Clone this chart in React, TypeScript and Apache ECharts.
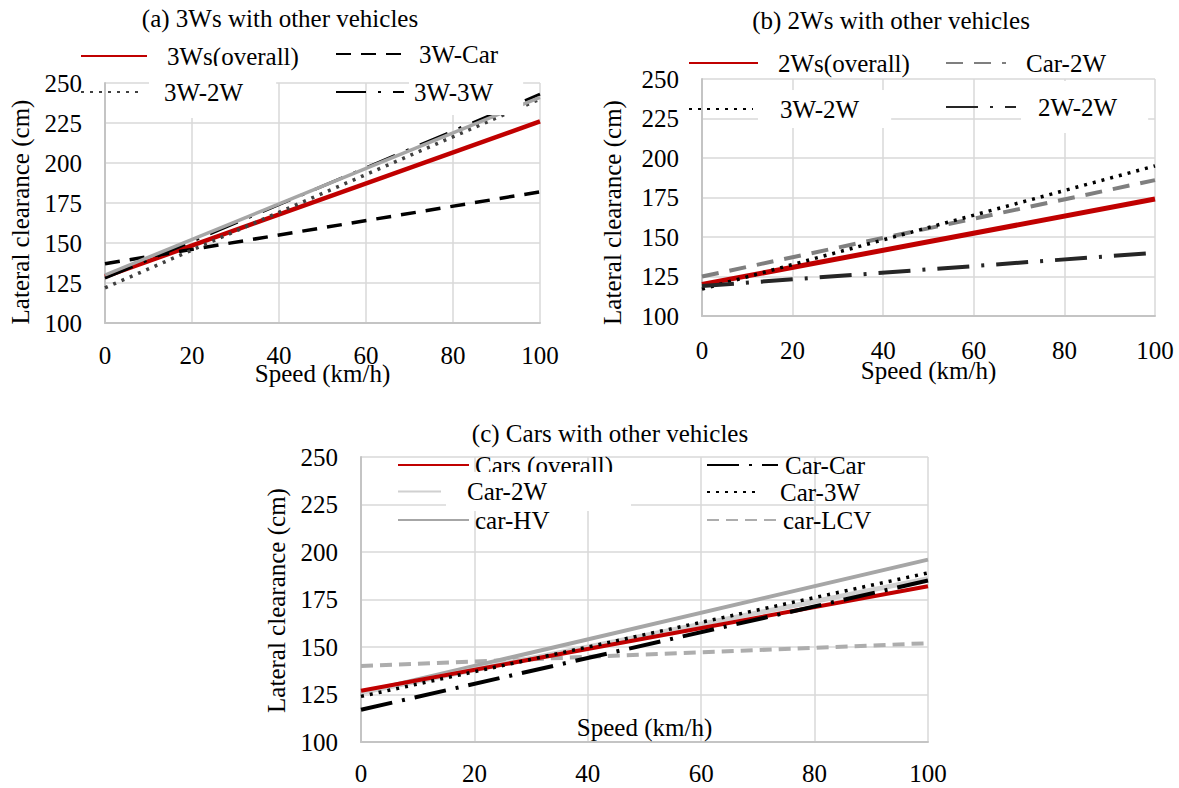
import React, { useEffect, useRef } from "react";
import * as echarts from "echarts";

// Speeds (km/h) at which each fitted line was read
const SPEED = [0, 100];

// (a) 3Ws with other vehicles — lateral clearance (cm)
const A_OVERALL = [129, 226];
const A_CAR = [137, 182];
const A_2W = [122, 240];
const A_3W = [128, 243];
const A_3W_TREND = [130, 241];

// (b) 2Ws with other vehicles
const B_OVERALL = [120, 174];
const B_CAR = [125, 186];
const B_3W = [117, 195];
const B_2W = [119, 140];

// (c) Cars with other vehicles
const C_OVERALL = [127, 182];
const C_CAR = [117, 185];
const C_2W = [126, 186];
const C_3W = [124, 189];
const C_HV = [126, 196];
const C_LCV = [140, 152];

// Tick labels
const X_TICKS = [0, 20, 40, 60, 80, 100];
const Y_TICKS = [100, 125, 150, 175, 200, 225, 250];

const TITLES = ["(a) 3Ws with other vehicles", "(b) 2Ws with other vehicles", "(c) Cars with other vehicles"];
const X_NAME = "Speed (km/h)";
const Y_NAME = "Lateral clearance (cm)";

const FONT = "Liberation Serif";
const FS = 25;

const pts = (v: number[]) => SPEED.map((s, i) => [s, v[i]]);

export default function App() {
  const ref = useRef<HTMLDivElement>(null);

  useEffect(() => {
    if (!ref.current) return;
    const chart = echarts.init(ref.current, undefined, { renderer: "svg" });

    const grids = [
      { left: 105, top: 83, width: 435, height: 240 },
      { left: 702, top: 79, width: 453, height: 237 },
      { left: 361, top: 457, width: 567, height: 285 },
    ];
    // label / name offsets relative to each plot
    const xLabelDy = [32, 34, 31];
    const xNameDy = [50, 54, -15];
    const yLabelGap = [23, 23, 23];
    const yNameDx = [85, 90, 85];
    const yNameDy = [9, 15, 1];

    const serif = {
      fontFamily: FONT,
      fontSize: FS,
      fontStyle: "normal",
      fontWeight: "normal",
      color: "#000",
      lineHeight: 26,
    };

    const xAxis = grids.map((_, i) => ({
      type: "value",
      gridIndex: i,
      min: 0,
      max: 100,
      interval: 20,
      axisLine: { show: true, lineStyle: { color: "#c4c4c4", width: 2 } },
      axisTick: { show: false },
      axisLabel: { show: false },
      splitLine: { show: true, lineStyle: { color: "#d9d9d9", width: 1.5 } },
    }));

    const yAxis = grids.map((_, i) => ({
      type: "value",
      gridIndex: i,
      min: 100,
      max: 250,
      interval: 25,
      axisLine: { show: true, lineStyle: { color: "#c4c4c4", width: 2 } },
      axisTick: { show: false },
      axisLabel: { show: false },
      splitLine: { show: true, lineStyle: { color: "#d9d9d9", width: 1.5 } },
    }));

    const line = (
      name: string,
      g: number,
      vals: number[],
      color: string,
      width: number,
      type: any = "solid"
    ) => ({
      type: "line",
      name,
      xAxisIndex: g,
      yAxisIndex: g,
      data: pts(vals),
      symbol: "none",
      symbolSize: 0,
      showSymbol: false,
      silent: true,
      lineStyle: { color, width, type, cap: "butt" },
      itemStyle: { color },
      z: 2,
    });

    const series = [
      // (a)
      line("3Ws(overall)", 0, A_OVERALL, "#c00000", 4.5),
      line("3W-Car", 0, A_CAR, "#000000", 3.5, [15, 10]),
      line("3W-2W", 0, A_2W, "#404040", 3.5, [3, 6]),
      line("3W-3W", 0, A_3W, "#000000", 3, [30, 12, 3, 12]),
      line("3W-3W trend", 0, A_3W_TREND, "#a6a6a6", 3.5),
      // (b)
      line("2Ws(overall)", 1, B_OVERALL, "#c00000", 5),
      line("Car-2W", 1, B_CAR, "#7f7f7f", 4, [17, 11]),
      line("3W-2W ", 1, B_3W, "#000000", 3.5, [3, 6]),
      line("2W-2W", 1, B_2W, "#262626", 4, [32, 12, 3, 12]),
      // (c)
      line("car-LCV", 2, C_LCV, "#adadad", 4, [12, 7]),
      line("car-HV", 2, C_HV, "#a6a6a6", 4),
      line("Car-2W ", 2, C_2W, "#d0d0d0", 5),
      line("Cars (overall)", 2, C_OVERALL, "#c00000", 4),
      line("Car-Car", 2, C_CAR, "#000000", 4, [32, 10, 3, 10]),
      line("Car-3W", 2, C_3W, "#000000", 3.5, [3, 6]),
    ];

    const leg = (
      name: string,
      label: string,
      left: number,
      top: number,
      itemWidth: number,
      padding: number[],
      white = false
    ) => ({
      data: [name],
      left,
      top,
      padding: 0,
      itemGap: 0,
      itemWidth,
      itemHeight: 12,
      selectedMode: false,
      formatter: () => label,
      itemStyle: { opacity: 0, borderWidth: 0 },
      textStyle: {
        ...serif,
        padding,
        backgroundColor: white ? "#ffffff" : "transparent",
      },
    });

    const legend = [
      // (a)
      leg("3Ws(overall)", "3Ws(overall)", 80, 42, 66, [2, 0, 0, 15]),
      leg("3W-Car", "3W-Car", 335, 41, 70, [0, 0, 0, 8]),
      leg("3W-2W", "3W-2W", 80, 66, 63, [22, 33, 4, 15], true),
      leg("3W-3W", "3W-3W", 335, 69, 68, [12, 30, 8, 5], true),
      // (b)
      leg("2Ws(overall)", "2Ws(overall)", 688, 46, 69, [8, 0, 0, 15]),
      leg("Car-2W", "Car-2W", 945, 49, 60, [2, 0, 0, 15]),
      leg("3W-2W ", "3W-2W", 688, 90, 64, [5, 32, 7, 22], true),
      leg("2W-2W", "2W-2W", 945, 81, 70, [19, 31, 7, 17], true),
      // (c)
      leg("Cars (overall)", "Cars (overall)", 397, 452, 71, [0, 0, 0, 1]),
      leg("Car-Car", "Car-Car", 706, 452, 71, [0, 0, 0, 2]),
      leg("Car-2W ", "Car-2W", 397, 472, 43, [13, 84, 0, 21], true),
      leg("Car-3W", "Car-3W", 706, 473, 52, [12, 0, 0, 16]),
      leg("car-HV", "car-HV", 397, 507, 71, [0, 0, 0, 1]),
      leg("car-LCV", "car-LCV", 706, 507, 71, [0, 0, 0, 0]),
    ];

    const titleX = [280, 891, 610];
    const titleY = [5, 7, 420];
    const title: any[] = TITLES.map((t, i) => ({
      text: t,
      left: titleX[i],
      top: titleY[i],
      textAlign: "center",
      padding: 0,
      textStyle: { ...serif },
    }));

    const base = {
      animation: false,
      backgroundColor: "#ffffff",
      textStyle: { fontFamily: FONT, fontSize: FS, color: "#000" },
      grid: grids.map((g) => ({ ...g, containLabel: false })),
      xAxis,
      yAxis,
      legend,
      series,
    };
    chart.setOption({ ...base, title });

    // Axis tick labels and names, placed through each grid's own scales
    const lab = (text: string, x: number, y: number, align: string) => ({
      text,
      left: x,
      top: y,
      textAlign: align,
      textVerticalAlign: "middle",
      padding: 0,
      silent: true,
      z: 10,
      textStyle: { ...serif },
    });

    const elements: any[] = [];
    grids.forEach((g, i) => {
      const finder = { gridIndex: i };
      X_TICKS.forEach((v) => {
        const p = chart.convertToPixel(finder, [v, Y_TICKS[0]]) as number[];
        title.push(lab(String(v), p[0], p[1] + xLabelDy[i], "center"));
      });
      Y_TICKS.forEach((v) => {
        const p = chart.convertToPixel(finder, [X_TICKS[0], v]) as number[];
        title.push(lab(String(v), p[0] - yLabelGap[i], p[1], "right"));
      });
      const lo = chart.convertToPixel(finder, [X_TICKS[0], Y_TICKS[0]]) as number[];
      const hi = chart.convertToPixel(finder, [X_TICKS[X_TICKS.length - 1], Y_TICKS[Y_TICKS.length - 1]]) as number[];
      const cx = (lo[0] + hi[0]) / 2;
      const cy = (lo[1] + hi[1]) / 2;
      title.push(lab(X_NAME, cx, lo[1] + xNameDy[i], "center"));
      elements.push({
        type: "text",
        x: lo[0] - yNameDx[i],
        y: cy + yNameDy[i],
        rotation: Math.PI / 2,
        silent: true,
        z: 10,
        style: {
          text: Y_NAME,
          x: 0,
          y: 0,
          font: "normal normal 25px " + FONT,
          fontFamily: FONT,
          fontSize: FS,
          fill: "#000",
          align: "center",
          verticalAlign: "middle",
          textAlign: "center",
          textVerticalAlign: "middle",
        },
      });
    });

    chart.setOption({ ...base, title, graphic: { elements } }, { notMerge: true });

    return () => chart.dispose();
  }, []);

  return (
    <div
      ref={ref}
      style={{ position: "fixed", left: 0, top: 0, width: 1179, height: 788, background: "#fff" }}
    />
  );
}
